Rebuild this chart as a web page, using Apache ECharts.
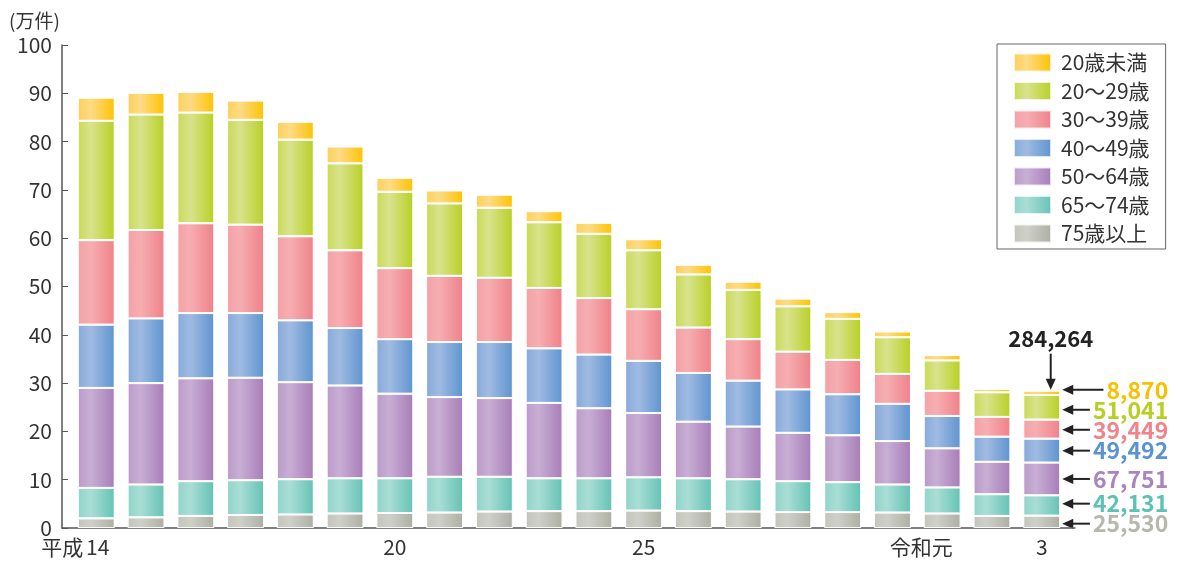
<!DOCTYPE html>
<html>
<head>
<meta charset="utf-8">
<script src="https://cdn.jsdelivr.net/npm/echarts@6/dist/echarts.min.js"></script>
<style>
  html, body { margin: 0; padding: 0; background: #fff; }
  #chart { width: 1178px; height: 563px; }
</style>
</head>
<body>
<div id="chart"></div>
<script>
  // 年次（平成14年～令和3年）
  const years = ['平成14', '15', '16', '17', '18', '19', '20', '21', '22', '23',
    '24', '25', '26', '27', '28', '29', '30', '令和元', '2', '3'];
  const shownYears = [0, 6, 11, 17, 19];

  // 年齢層別（万件）、下から積み上げ
  const age75over = [2.0, 2.2, 2.5, 2.7, 2.8, 3.0, 3.1, 3.2, 3.4, 3.5, 3.5, 3.6, 3.5, 3.4, 3.3, 3.3, 3.2, 3.0, 2.5, 2.553];
  const age65to74 = [6.3, 6.8, 7.2, 7.2, 7.3, 7.3, 7.2, 7.4, 7.2, 6.8, 6.8, 6.9, 6.8, 6.7, 6.4, 6.2, 5.8, 5.4, 4.5, 4.213];
  const age50to64 = [20.7, 21.0, 21.3, 21.2, 20.1, 19.2, 17.5, 16.5, 16.3, 15.6, 14.5, 13.3, 11.7, 10.9, 10.0, 9.7, 9.0, 8.1, 6.7, 6.775];
  const age40to49 = [13.1, 13.4, 13.5, 13.4, 12.8, 11.9, 11.3, 11.4, 11.6, 11.3, 11.1, 10.8, 10.1, 9.5, 9.0, 8.5, 7.7, 6.7, 5.2, 4.949];
  const age30to39 = [17.5, 18.3, 18.6, 18.3, 17.4, 16.1, 14.7, 13.7, 13.3, 12.5, 11.7, 10.7, 9.4, 8.6, 7.8, 7.1, 6.2, 5.2, 4.1, 3.945];
  const age20to29 = [24.7, 23.9, 22.9, 21.7, 20.0, 18.0, 15.8, 15.0, 14.5, 13.6, 13.3, 12.2, 11.0, 10.2, 9.4, 8.5, 7.6, 6.3, 5.1, 5.104];
  const ageUnder20 = [4.8, 4.5, 4.3, 4.0, 3.7, 3.5, 2.9, 2.7, 2.7, 2.3, 2.3, 2.3, 2.0, 1.7, 1.6, 1.4, 1.2, 1.1, 0.7, 0.887];

  // 令和3年の件数（下から）
  const lastCounts = [25530, 42131, 67751, 49492, 39449, 51041, 8870];

  const groups = [
    { name: '75歳以上', data: age75over, c: ['#c3c4bb', '#cfd0c8', '#adafa4'], txt: '#b6b8ae' },
    { name: '65～74歳', data: age65to74, c: ['#90d4c9', '#a9ded6', '#64c2b4'], txt: '#5dc2b4' },
    { name: '50～64歳', data: age50to64, c: ['#bb9bc9', '#c8aed4', '#a77db8'], txt: '#a985be' },
    { name: '40～49歳', data: age40to49, c: ['#86aadb', '#a0bbe2', '#5e94cf'], txt: '#5a93d0' },
    { name: '30～39歳', data: age30to39, c: ['#f4a1a6', '#f6aeb1', '#ef818a'], txt: '#f0848c' },
    { name: '20～29歳', data: age20to29, c: ['#c9da55', '#d8e38d', '#b8d024'], txt: '#b5cf24' },
    { name: '20歳未満', data: ageUnder20, c: ['#fdd058', '#fedb85', '#fdc300'], txt: '#f9bf00' },
  ];

  const FONT = '"Noto Sans CJK JP", "Noto Sans", sans-serif';
  const LABEL_FONT = 'bold 23px ' + FONT;
  const barW = 37;
  const axisColor = '#555';

  const chart = echarts.init(document.getElementById('chart'));

  chart.setOption({
    animation: false,
    textStyle: { fontFamily: FONT },
    title: {
      text: '(万件)',
      left: 4,
      top: 6,
      textStyle: { fontSize: 19, fontWeight: 'normal', color: '#333', fontFamily: FONT },
    },
    grid: [
      // bars
      { left: 71.4, right: 111.4, top: 45, bottom: 35 },
      // axis frame only
      { left: 62, right: 103, top: 45, bottom: 35 },
    ],
    legend: {
      orient: 'vertical',
      left: 997,
      top: 44,
      data: groups.map((g) => g.name).reverse(),
      icon: 'rect',
      itemWidth: 37,
      itemHeight: 18,
      itemGap: 7.5,
      padding: [8, 16, 5, 16],
      borderColor: '#666',
      borderWidth: 1,
      textStyle: { fontSize: 21, color: '#333', lineHeight: 20, padding: [0, 0, 0, 5] },
    },
    xAxis: [
      {
        type: 'category',
        gridIndex: 0,
        data: years,
        axisLine: { show: false },
        axisTick: { show: false },
        axisLabel: {
          interval: (i) => shownYears.indexOf(i) >= 0,
          fontSize: 21,
          color: '#333',
          margin: 9,
          formatter: (t) => {
            if (t.startsWith('平成')) return '{p|平成}' + t.slice(2) + '{s| }';
            if (t.startsWith('令和')) return '{q|令和}' + t.slice(2) + '{s| }';
            return t;
          },
          rich: {
            p: { fontSize: 21, color: '#333', padding: [0, 3, 0, 0] },
            q: { fontSize: 21, color: '#333' },
            s: { width: 42 },
          },
        },
      },
      {
        type: 'value',
        gridIndex: 1,
        min: 0,
        max: 1,
        splitLine: { show: false },
        axisTick: { show: false },
        axisLabel: { show: false },
        axisLine: { show: true, onZero: false, lineStyle: { color: axisColor, width: 1.5 } },
      },
    ],
    yAxis: [
      {
        type: 'value',
        gridIndex: 0,
        min: 0,
        max: 100,
        show: false,
      },
      {
        type: 'value',
        gridIndex: 1,
        min: 0,
        max: 100,
        interval: 10,
        splitLine: { show: false },
        axisLine: { show: true, onZero: false, lineStyle: { color: axisColor, width: 1.5 } },
        axisTick: { show: true, inside: true, length: 6, lineStyle: { color: axisColor } },
        axisLabel: { fontSize: 21, color: '#333', margin: 10 },
      },
    ],
    series: groups.map((g) => ({
      name: g.name,
      type: 'bar',
      stack: 'total',
      barWidth: barW,
      xAxisIndex: 0,
      yAxisIndex: 0,
      data: g.data,
      itemStyle: {
        color: new echarts.graphic.LinearGradient(0, 0, 1, 0, [
          { offset: 0, color: g.c[0] },
          { offset: 0.35, color: g.c[1] },
          { offset: 1, color: g.c[2] },
        ]),
        borderColor: 'rgba(255,255,255,0.75)',
        borderWidth: 1,
      },
    })),
  });

  // 令和3年の内訳ラベルと矢印
  const last = years.length - 1;
  const cx = chart.convertToPixel({ gridIndex: 0 }, [last, 0])[0];
  const barRight = cx + barW / 2;
  let cum = 0;
  const ys = groups.map((g) => {
    const v = g.data[last];
    const y = chart.convertToPixel({ gridIndex: 0 }, [last, cum + v / 2])[1];
    cum += v;
    return y;
  });
  const topY = chart.convertToPixel({ gridIndex: 0 }, [last, cum])[1];

  // ラベルの重なりを避ける
  const gap = 20;
  for (let k = 0; k < 30; k++) {
    for (let i = 0; i < ys.length - 1; i++) {
      const d = ys[i] - ys[i + 1];
      if (d < gap) {
        const s = (gap - d) / 2;
        ys[i] += s;
        ys[i + 1] -= s;
      }
    }
  }

  const ctx = document.createElement('canvas').getContext('2d');
  ctx.font = LABEL_FONT;

  const elements = [];
  const textRight = barRight + 108;
  groups.forEach((g, i) => {
    const y = ys[i];
    const head = barRight + 2;
    const text = lastCounts[i].toLocaleString('en-US');
    const tail = textRight - ctx.measureText(text).width - 3;
    elements.push({
      type: 'line',
      shape: { x1: head + 8, y1: y, x2: tail, y2: y },
      style: { stroke: '#222', lineWidth: 2 },
    });
    elements.push({
      type: 'polygon',
      shape: { points: [[head, y], [head + 11, y - 5], [head + 11, y + 5]] },
      style: { fill: '#222' },
    });
    elements.push({
      type: 'text',
      x: textRight,
      y: y,
      style: {
        text: text,
        fill: g.txt,
        font: LABEL_FONT,
        align: 'right',
        verticalAlign: 'middle',
      },
    });
  });

  // 合計
  const total = lastCounts.reduce((a, b) => a + b, 0);
  const ax = cx + 9;
  elements.push({
    type: 'line',
    shape: { x1: ax, y1: topY - 37, x2: ax, y2: topY - 9 },
    style: { stroke: '#222', lineWidth: 2 },
  });
  elements.push({
    type: 'polygon',
    shape: { points: [[ax, topY - 1], [ax - 5, topY - 12], [ax + 5, topY - 12]] },
    style: { fill: '#222' },
  });
  elements.push({
    type: 'text',
    x: ax,
    y: topY - 52,
    style: {
      text: total.toLocaleString('en-US'),
      fill: '#222',
      font: 'bold 22px ' + FONT,
      align: 'center',
      verticalAlign: 'middle',
    },
  });

  chart.setOption({ graphic: { elements: elements } });
</script>
</body>
</html>
